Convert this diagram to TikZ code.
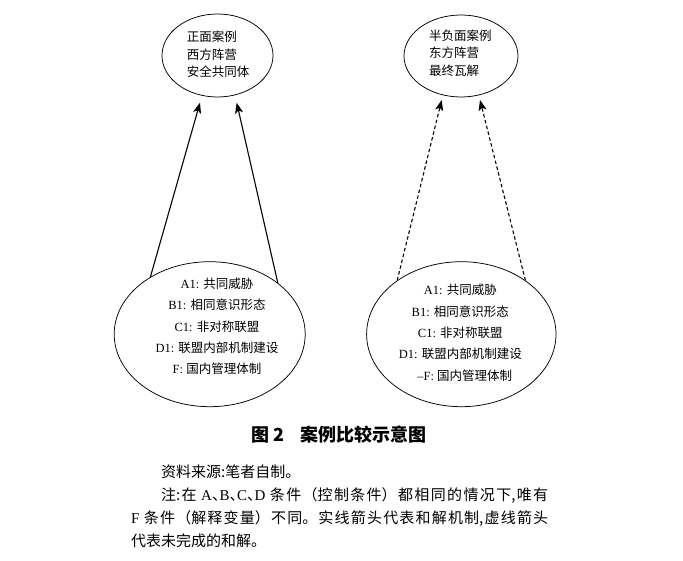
\documentclass[tikz,border=0pt]{standalone}
\usepackage{fontspec}
\setmainfont{Liberation Serif}
\newfontfamily\cjk{Noto Sans CJK SC}
\newfontfamily\latf{Liberation Serif}
\usetikzlibrary{arrows.meta,shapes.geometric}
\XeTeXlinebreaklocale "zh"
\XeTeXlinebreakskip=0pt plus 2pt
\newcommand\dunhao{\makebox[0.5em][l]{、}}
\begin{document}
\begin{tikzpicture}[x=1pt,y=-1pt,
  ell/.style={draw=black, line width=0.75pt, ellipse, inner sep=0pt},
  sol/.style={line width=1.1pt, -{Stealth[length=10.5pt,width=8pt,inset=2.5pt]}},
  dsh/.style={sol, dash pattern=on 3.5pt off 2.5pt},
  ttxt/.style={inner sep=0pt, align=left, font=\fontsize{12.5}{17.5}\selectfont\cjk},
  btxt/.style={inner sep=0pt, align=center, font=\fontsize{12.5}{21.3}\selectfont},
]
\useasboundingbox (0,0) rectangle (683,561);
\fill[white] (0,0) rectangle (683,561);

% ellipses
\node[ell, minimum width=111pt, minimum height=83pt] (tl) at (217.5,55.5) {};
\node[ell, minimum width=114pt, minimum height=82pt] (tr) at (461,56) {};
\node[ell, minimum width=191pt, minimum height=145pt] (bl) at (209.7,334.2) {};
\node[ell, minimum width=189.4pt, minimum height=145pt] (br) at (461.3,334.2) {};

% texts
\node[ttxt, anchor=west] (tltext) at (186.7,54.3) {正面案例\\西方阵营\\安全共同体};
\node[ttxt, anchor=west] (trtext) at (429,53) {半负面案例\\东方阵营\\最终瓦解};

\node[btxt] (bltext) at (217,326.3) {A1: {\cjk 共同威胁}\\B1: {\cjk 相同意识形态}\\C1: {\cjk 非对称联盟}\\D1: {\cjk 联盟内部机制建设}\\F: {\cjk 国内管理体制}};
\node[btxt] (brtext) at (460.3,332.8) {A1: {\cjk 共同威胁}\\B1: {\cjk 相同意识形态}\\C1: {\cjk 非对称联盟}\\D1: {\cjk 联盟内部机制建设}\\\hspace*{9pt}--F: {\cjk 国内管理体制}};

% arrow tips
\coordinate (t1) at (200,102.7);
\coordinate (t2) at (236.7,102.7);
\coordinate (t3) at (441.7,100);
\coordinate (t4) at (480,100);

\draw[sol] (bl.136.9) -- (t1);
\draw[sol] (bl.37.2) -- (t2);
\draw[dsh] (br.140.6) -- (t3);
\draw[dsh] (br.40.5) -- (t4);

% caption
\node[anchor=base, inner sep=0pt, font=\fontsize{18}{18}\selectfont\cjk\bfseries] (cap) at (339,441.5) {图 2\hspace{0.9em}案例比较示意图};

% notes
\node[anchor=base west, inner sep=0pt, text width=417pt, align=justify, font=\fontsize{15}{23.3}\selectfont\cjk] (notes) at (131,477) {\hspace*{2em}资料来源:笔者自制。\\\hspace*{2em}注:在 {\latf A}\dunhao{\latf B}\dunhao{\latf C}\dunhao{\latf D} 条件（控制条件）都相同的情况下,唯有\linebreak {\latf F} 条件（解释变量）不同。实线箭头代表和解机制,虚线箭头\linebreak 代表未完成的和解。};
\end{tikzpicture}
\end{document}
